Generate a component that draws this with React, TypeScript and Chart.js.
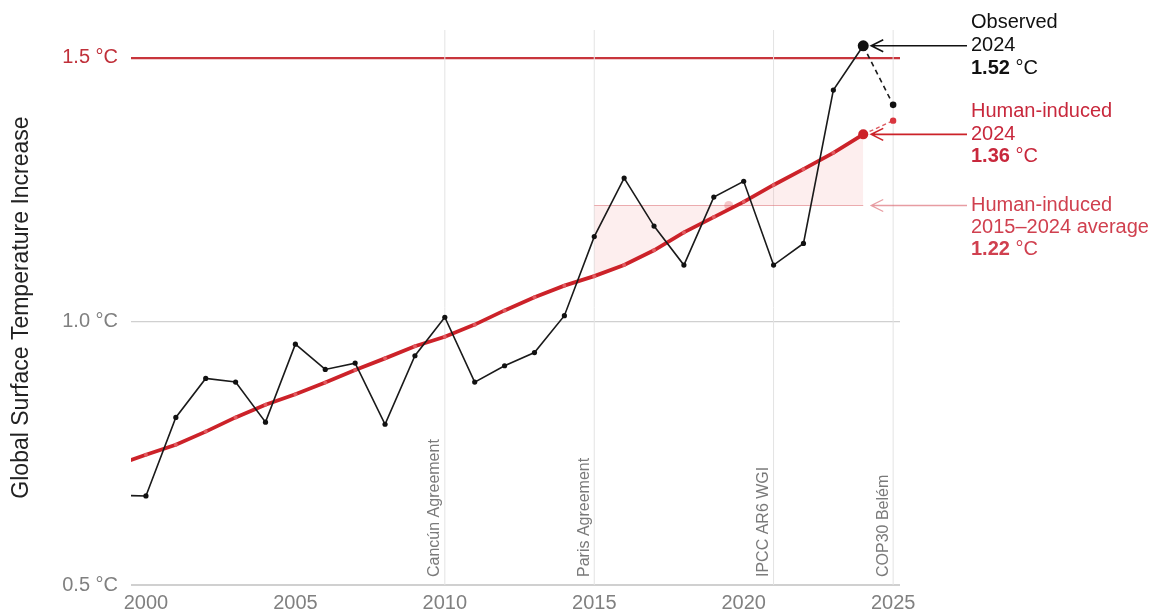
import React, { useEffect, useRef } from "react";
import { Chart, registerables } from "chart.js";

Chart.register(...registerables);

// ---------- data ----------
const years = [1999, 2000, 2001, 2002, 2003, 2004, 2005, 2006, 2007, 2008, 2009, 2010, 2011, 2012, 2013, 2014, 2015, 2016, 2017, 2018, 2019, 2020, 2021, 2022, 2023, 2024];
const observed = [0.67, 0.669, 0.818, 0.892, 0.885, 0.809, 0.957, 0.909, 0.921, 0.805, 0.935, 1.008, 0.885, 0.916, 0.941, 1.011, 1.161, 1.272, 1.181, 1.107, 1.236, 1.266, 1.107, 1.148, 1.439, 1.523];
const humanInduced = [0.727, 0.747, 0.766, 0.791, 0.818, 0.842, 0.862, 0.884, 0.908, 0.93, 0.953, 0.971, 0.994, 1.021, 1.046, 1.068, 1.086, 1.107, 1.135, 1.169, 1.198, 1.227, 1.259, 1.289, 1.32, 1.355];
const projYears = [2024, 2025];
const observedProj = [1.523, 1.411];
const humanProj = [1.355, 1.381];
const avgYears = [2015, 2024];
const avgValue = 1.22;
const avgMarkerYear = 2019.5;
const highlightYear = 2024;
const eventYears = [2010, 2015, 2021, 2025];
const eventLabels = ["Cancún Agreement", "Paris Agreement", "IPCC AR6 WGI", "COP30 Belém"];
const xTicks = [2000, 2005, 2010, 2015, 2020, 2025];
const yTicks = [0.5, 1.0, 1.5];
const threshold = 1.5;
const xMin = 1999.5;
const xMax = 2025.23;
const yMin = 0.5;
const yMax = 1.553;

const observedLabel = ["Observed", "2024", "1.52", " °C"];
const humanLabel = ["Human-induced", "2024", "1.36", " °C"];
const avgLabel = ["Human-induced", "2015–2024 average", "1.22", " °C"];

const FONT = '"Liberation Sans", Arial, Helvetica, sans-serif';
const RED = "#cc2229";
const TEXT_RED = "#c8283c";
const TEXT_RED_LIGHT = "#d0404f";

const pts = (xs: number[], ys: number[]) => xs.map((x, i) => ({ x, y: ys[i] }));

const annotationPlugin = {
  id: "annotations",
  afterDatasetsDraw(chart: any) {
    const { ctx, chartArea } = chart;
    const xs = chart.scales.x;
    const ys = chart.scales.y;
    ctx.save();

    // event labels
    ctx.font = `16px ${FONT}`;
    ctx.fillStyle = "#7a7a7a";
    eventYears.forEach((yr, i) => {
      const px = xs.getPixelForValue(yr);
      ctx.save();
      ctx.translate(px - 2, chartArea.bottom - 8);
      ctx.rotate(-Math.PI / 2);
      ctx.textAlign = "left";
      ctx.textBaseline = "bottom";
      ctx.fillText(eventLabels[i], 0, 0);
      ctx.restore();
    });

    // arrows
    const tipX = xs.getPixelForValue(highlightYear) + 8;
    const startX = 967;
    const arrow = (yv: number, color: string, width: number) => {
      const py = ys.getPixelForValue(yv);
      ctx.strokeStyle = color;
      ctx.lineWidth = width;
      ctx.beginPath();
      ctx.moveTo(startX, py);
      ctx.lineTo(tipX, py);
      ctx.moveTo(tipX + 12, py - 6);
      ctx.lineTo(tipX, py);
      ctx.lineTo(tipX + 12, py + 6);
      ctx.stroke();
      return py;
    };
    const yObs = arrow(observed[observed.length - 1], "#111111", 1.6);
    const yHum = arrow(humanInduced[humanInduced.length - 1], RED, 1.6);
    const yAvg = arrow(avgValue, "rgba(215,90,100,0.6)", 1.3);

    // text groups
    const tx = 971;
    const drawGroup = (lines: string[], cy: number[], color: string) => {
      ctx.fillStyle = color;
      ctx.textAlign = "left";
      ctx.textBaseline = "middle";
      ctx.font = `20px ${FONT}`;
      ctx.fillText(lines[0], tx, cy[0]);
      ctx.fillText(lines[1], tx, cy[1]);
      ctx.font = `bold 20px ${FONT}`;
      ctx.fillText(lines[2], tx, cy[2]);
      const w = ctx.measureText(lines[2]).width;
      ctx.font = `20px ${FONT}`;
      ctx.fillText(lines[3], tx + w, cy[2]);
    };
    drawGroup(observedLabel, [yObs - 23, yObs, yObs + 22.5], "#111111");
    drawGroup(humanLabel, [yHum - 23, yHum, yHum + 22.5], TEXT_RED);
    drawGroup(avgLabel, [yAvg, yAvg + 22, yAvg + 44], TEXT_RED_LIGHT);

    ctx.restore();
  },
};

export default function App() {
  const ref = useRef<HTMLCanvasElement | null>(null);

  useEffect(() => {
    document.body.style.margin = "0";
    if (!ref.current) return;

    const obsRadius = years.map((y) => (y === highlightYear ? 5.5 : 2.6));
    const humRadius = years.map((y) => (y === highlightYear ? 5 : 2));
    const humColors = years.map((y) => (y === highlightYear ? RED : "#e25b61"));

    const segStart = years.indexOf(avgYears[0]);
    const segEnd = years.indexOf(avgYears[1]);
    const fillSeg = pts(years.slice(segStart, segEnd + 1), humanInduced.slice(segStart, segEnd + 1));

    const eventDatasets = eventYears.map((yr) => ({
      type: "line" as const,
      data: [
        { x: yr, y: yMin },
        { x: yr, y: yMax },
      ],
      borderColor: "#e3e3e3",
      borderWidth: 1,
      pointRadius: 0,
      fill: false,
      order: 10,
    }));

    const chart = new Chart(ref.current, {
      type: "line",
      data: {
        datasets: [
          {
            data: pts(years, observed),
            borderColor: "#1a1a1a",
            borderWidth: 1.6,
            pointRadius: obsRadius,
            pointBackgroundColor: "#111111",
            pointBorderWidth: 0,
            fill: false,
            order: 0,
          },
          {
            data: pts(projYears, observedProj),
            borderColor: "#1a1a1a",
            borderWidth: 1.6,
            borderDash: [5, 4],
            pointRadius: [0, 3.3],
            pointBackgroundColor: "#111111",
            pointBorderWidth: 0,
            fill: false,
            order: 1,
          },
          {
            data: pts(years, humanInduced),
            borderColor: RED,
            borderWidth: 3.8,
            pointRadius: humRadius,
            pointBackgroundColor: humColors,
            pointBorderWidth: 0,
            fill: false,
            order: 2,
          },
          {
            data: pts(projYears, humanProj),
            borderColor: "#dd5a60",
            borderWidth: 1.4,
            borderDash: [4, 3],
            pointRadius: [0, 3.2],
            pointBackgroundColor: "#d9363f",
            pointBorderWidth: 0,
            fill: false,
            order: 3,
          },
          {
            data: pts(avgYears, [avgValue, avgValue]),
            borderColor: "rgba(220,110,115,0.55)",
            borderWidth: 1.2,
            pointRadius: 0,
            fill: false,
            order: 4,
          },
          {
            data: [{ x: avgMarkerYear, y: avgValue }],
            showLine: false,
            pointRadius: 4.5,
            pointBackgroundColor: "rgba(232,130,135,0.45)",
            pointBorderWidth: 0,
            order: 5,
          },
          {
            data: fillSeg,
            borderWidth: 0,
            borderColor: "rgba(0,0,0,0)",
            pointRadius: 0,
            fill: { value: avgValue },
            backgroundColor: "rgba(240,150,150,0.16)",
            order: 6,
          },
          ...eventDatasets,
        ] as any,
      },
      options: {
        animation: false,
        responsive: false,
        events: [],
        layout: { padding: { left: 0, top: 30, right: 256, bottom: 0 } },
        plugins: {
          legend: { display: false },
          tooltip: { enabled: false },
        },
        scales: {
          x: {
            type: "linear",
            min: xMin,
            max: xMax,
            afterBuildTicks: (s: any) => {
              s.ticks = xTicks.map((v) => ({ value: v }));
            },
            afterFit: (s: any) => {
              s.height = 28;
            },
            grid: { display: false, drawTicks: false },
            border: { display: false },
            ticks: {
              autoSkip: false,
              maxRotation: 0,
              padding: 6,
              color: "#808080",
              font: { family: FONT, size: 20 },
              callback: (v: any) => String(v),
            },
          },
          y: {
            type: "linear",
            min: yMin,
            max: yMax,
            afterBuildTicks: (s: any) => {
              s.ticks = yTicks.map((v) => ({ value: v }));
            },
            afterFit: (s: any) => {
              s.width = 131;
            },
            grid: {
              drawTicks: false,
              color: (c: any) => (c.tick && c.tick.value === threshold ? "#c8353c" : "#d0d0d0"),
              lineWidth: (c: any) => (c.tick && c.tick.value === threshold ? 2.2 : c.tick && c.tick.value === yMin ? 2 : 1.3),
            },
            border: { display: false },
            title: {
              display: true,
              text: "Global Surface Temperature Increase",
              color: "#222222",
              font: { family: FONT, size: 23 },
              padding: { top: 8, bottom: 0 },
            },
            ticks: {
              padding: 13,
              color: (c: any) => (c.tick && c.tick.value === threshold ? "#c0303a" : "#808080"),
              font: { family: FONT, size: 20 },
              callback: (v: any) => `${Number(v).toFixed(1)} °C`,
            },
          },
        },
      },
      plugins: [annotationPlugin],
    });

    return () => chart.destroy();
  }, []);

  return (
    <div style={{ width: 1156, height: 613, background: "#ffffff" }}>
      <canvas ref={ref} width={1156} height={613} style={{ display: "block" }} />
    </div>
  );
}
